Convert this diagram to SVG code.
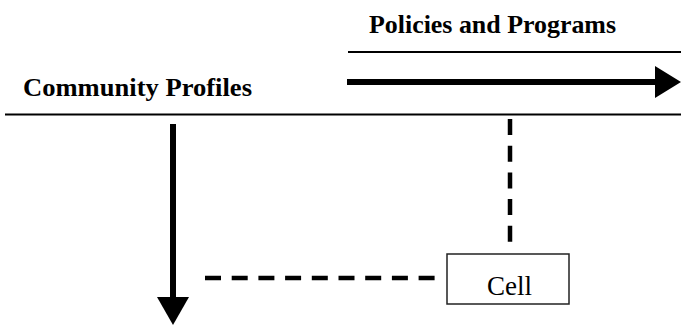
<svg xmlns="http://www.w3.org/2000/svg" width="681" height="325" viewBox="0 0 681 325">
<style>
.hd{font-family:"Liberation Serif","Times New Roman",serif;font-weight:bold;font-size:26px;fill:#000}
.rule{stroke:#000;stroke-width:2;fill:none}
.solid{stroke:#000;stroke-width:6;fill:none}
.dash{stroke:#000;stroke-width:4.5;fill:none;stroke-dasharray:16 10.7}
.head{fill:#000}
.box{fill:#fff;stroke:#222;stroke-width:1.5}
.lbl{font-family:"Liberation Serif","Times New Roman",serif;font-size:27px;fill:#000}
</style>
<rect width="681" height="325" fill="#fff"/>
<g id="policies">
<text class="hd" x="369" y="33" textLength="247" lengthAdjust="spacingAndGlyphs">Policies and Programs</text>
<line class="rule" x1="348" y1="52" x2="681" y2="52"/>
</g>
<g id="community">
<text class="hd" x="23" y="96" textLength="229" lengthAdjust="spacingAndGlyphs">Community Profiles</text>
<line class="rule" x1="5" y1="114.5" x2="681" y2="114.5"/>
</g>
<g id="cell">
<rect class="box" x="447" y="254" width="122" height="50"/>
<text class="lbl" x="487" y="295">Cell</text>
</g>
<g id="connectors">
<line class="solid" x1="347" y1="82" x2="656" y2="82"/>
<polygon class="head" points="655,66 681,82 655,98"/>
<line class="solid" x1="173" y1="124" x2="173" y2="298" stroke-width="7"/>
<polygon class="head" points="157,297 189,297 173,325"/>
<line class="dash" x1="510" y1="119" x2="510" y2="243"/>
<line class="dash" x1="205" y1="278" x2="437" y2="278"/>
</g>
</svg>
